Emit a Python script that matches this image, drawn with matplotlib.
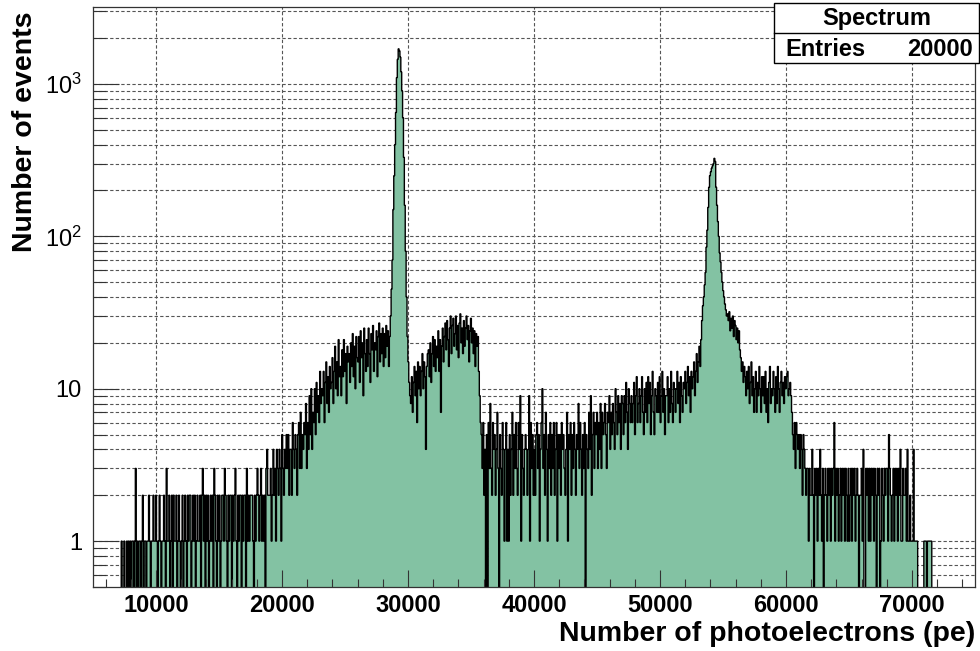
import numpy as np
import matplotlib
matplotlib.use("Agg")
import matplotlib.pyplot as plt
from matplotlib.patches import Rectangle
from matplotlib.lines import Line2D
from matplotlib.ticker import LogLocator, FixedLocator, MultipleLocator, NullFormatter

plt.rcParams["font.family"] = ["Liberation Sans", "DejaVu Sans"]
plt.rcParams["mathtext.fontset"] = "custom"
plt.rcParams["mathtext.rm"] = "Liberation Sans"

# ---- histogram definition -------------------------------------------------
HIST_NAME = "Spectrum"
ENTRIES = 20000
X_MIN, X_MAX = 5000, 75000
N_BINS = 1000
X_TITLE = "Number of photoelectrons (pe)"
Y_TITLE = "Number of events"

x_tick_values = [10000, 20000, 30000, 40000, 50000, 60000, 70000]
x_tick_labels = ["10000", "20000", "30000", "40000", "50000", "60000", "70000"]
y_tick_values = [1, 10, 100, 1000]
y_tick_labels = ["1", "10", r"$\mathregular{10^{2}}$", r"$\mathregular{10^{3}}$"]
y_range = (0.5, 3200)

# bin contents, 10 bins (700 pe) per row, starting at X_MIN
counts = [
    0, 0, 0, 0, 0, 0, 0, 0, 0, 0,
    0, 0, 0, 0, 0, 0, 0, 0, 0, 0,
    0, 0, 0, 0, 0, 0, 0, 0, 0, 0,
    0, 0, 1, 0, 0, 1, 0, 0, 1, 0,
    1, 0, 1, 0, 1, 1, 0, 1, 3, 0,
    1, 0, 1, 1, 0, 1, 2, 0, 1, 1,
    0, 1, 1, 2, 1, 0, 1, 1, 2, 1,
    1, 2, 1, 0, 1, 2, 1, 0, 1, 1,
    2, 1, 0, 3, 1, 1, 2, 0, 1, 2,
    0, 2, 1, 1, 2, 0, 1, 2, 1, 0,
    1, 2, 0, 1, 2, 1, 0, 2, 1, 2,
    2, 0, 1, 2, 1, 2, 0, 1, 2, 1,
    1, 2, 0, 2, 3, 1, 2, 0, 2, 1,
    2, 0, 1, 2, 1, 2, 0, 3, 2, 1,
    0, 2, 1, 2, 0, 1, 2, 2, 1, 3,
    2, 1, 0, 2, 1, 2, 2, 0, 2, 1,
    2, 3, 1, 0, 2, 1, 2, 2, 0, 2,
    1, 2, 2, 0, 3, 1, 2, 1, 2, 2,
    2, 1, 0, 2, 1, 2, 3, 2, 1, 2,
    3, 1, 2, 1, 2, 0, 3, 4, 2, 2,
    2, 3, 1, 2, 4, 2, 3, 1, 4, 3,
    2, 4, 3, 1, 5, 3, 2, 4, 3, 5,
    3, 5, 2, 4, 4, 2, 6, 4, 3, 5,
    4, 2, 5, 6, 3, 7, 3, 5, 4, 6,
    5, 8, 3, 6, 4, 9, 5, 10, 4, 7,
    6, 10, 5, 11, 7, 9, 6, 13, 8, 10,
    9, 13, 6, 11, 15, 8, 12, 7, 14, 10,
    11, 16, 8, 13, 19, 10, 15, 9, 21, 12,
    14, 9, 18, 12, 21, 13, 17, 8, 19, 15,
    17, 11, 20, 14, 23, 12, 19, 10, 22, 16,
    15, 22, 11, 24, 16, 20, 9, 25, 17, 13,
    21, 14, 25, 17, 11, 23, 18, 26, 13, 20,
    18, 24, 12, 22, 27, 15, 23, 17, 25, 14,
    23, 16, 26, 19, 24, 14, 22, 30, 45, 70,
    150, 250, 400, 650, 1100, 1450, 1700, 1650, 1500, 1200,
    900, 600, 330, 160, 80, 40, 22, 15, 11, 9,
    8, 12, 7, 11, 14, 9, 13, 6, 15, 10,
    14, 9, 13, 17, 10, 15, 12, 4, 14, 17,
    18, 12, 20, 11, 17, 22, 14, 21, 13, 19,
    16, 24, 13, 21, 7, 19, 25, 15, 22, 27,
    18, 28, 21, 14, 25, 30, 17, 26, 29, 19,
    23, 30, 18, 26, 16, 27, 31, 20, 25, 17,
    28, 19, 25, 30, 21, 26, 15, 24, 29, 20,
    25, 17, 24, 14, 23, 19, 22, 13, 9, 6,
    5, 3, 6, 2, 4, 0, 5, 0, 6, 3,
    8, 3, 2, 6, 4, 5, 2, 4, 7, 3,
    0, 5, 3, 2, 6, 4, 1, 4, 6, 1,
    4, 1, 5, 2, 4, 7, 2, 5, 3, 6,
    3, 2, 6, 4, 9, 1, 5, 3, 2, 4,
    5, 4, 2, 4, 9, 1, 6, 3, 5, 2,
    4, 2, 5, 6, 3, 5, 1, 4, 6, 10,
    3, 5, 2, 7, 4, 1, 5, 3, 6, 2,
    5, 3, 6, 2, 4, 6, 1, 5, 3, 5,
    2, 6, 4, 5, 3, 2, 4, 7, 1, 5,
    4, 6, 2, 5, 3, 6, 4, 2, 5, 4,
    8, 3, 6, 4, 2, 5, 3, 6, 0, 5,
    4, 3, 7, 4, 9, 2, 5, 7, 3, 6,
    5, 7, 3, 6, 4, 8, 3, 7, 5, 6,
    8, 5, 3, 7, 6, 9, 4, 7, 5, 8,
    6, 4, 10, 7, 5, 9, 6, 8, 4, 9,
    8, 5, 9, 6, 11, 7, 4, 10, 8, 6,
    9, 6, 8, 11, 5, 9, 12, 6, 8, 10,
    6, 9, 12, 7, 5, 10, 7, 11, 6, 12,
    8, 11, 5, 9, 13, 7, 5, 10, 9, 7,
    11, 7, 12, 6, 9, 13, 7, 10, 5, 9,
    9, 12, 6, 10, 7, 13, 8, 6, 11, 10,
    7, 10, 13, 8, 11, 6, 12, 9, 7, 11,
    10, 13, 8, 11, 14, 9, 12, 7, 13, 10,
    12, 15, 9, 13, 17, 11, 15, 19, 14, 21,
    28, 35, 40, 48, 58, 85, 110, 155, 210, 250,
    265, 280, 290, 300, 325, 310, 210, 160, 125, 100,
    78, 68, 58, 50, 44, 40, 36, 33, 30, 31,
    28, 32, 24, 29, 25, 30, 22, 28, 26, 21,
    25, 20, 24, 18, 16, 13, 15, 11, 14, 12,
    9, 13, 10, 14, 8, 11, 15, 9, 12, 7,
    10, 13, 7, 11, 9, 14, 10, 7, 12, 9,
    12, 8, 13, 7, 10, 6, 11, 14, 8, 10,
    9, 13, 10, 7, 12, 8, 14, 10, 7, 11,
    13, 9, 11, 8, 12, 10, 12, 13, 9, 10,
    11, 9, 7, 5, 4, 6, 3, 6, 5, 4,
    5, 3, 5, 4, 2, 5, 4, 3, 2, 3,
    3, 1, 3, 2, 2, 4, 2, 0, 3, 2,
    3, 1, 3, 2, 4, 2, 1, 3, 0, 2,
    3, 2, 1, 3, 2, 3, 1, 3, 2, 3,
    6, 1, 3, 2, 3, 1, 2, 3, 1, 3,
    2, 3, 1, 3, 2, 1, 3, 1, 2, 3,
    1, 3, 2, 3, 1, 2, 3, 2, 0, 2,
    2, 3, 1, 4, 0, 0, 3, 2, 3, 1,
    3, 1, 3, 2, 3, 1, 3, 2, 0, 3,
    2, 3, 0, 1, 3, 2, 1, 3, 2, 3,
    3, 1, 5, 3, 2, 1, 2, 3, 1, 3,
    2, 3, 1, 3, 2, 4, 1, 1, 3, 2,
    2, 3, 1, 4, 1, 1, 2, 1, 1, 1,
    4, 1, 1, 1, 1, 0, 0, 0, 0, 0,
    0, 0, 1, 1, 1, 0, 1, 1, 1, 1,
    1, 0, 0, 0, 0, 0, 0, 0, 0, 0,
    0, 0, 0, 0, 0, 0, 0, 0, 0, 0,
    0, 0, 0, 0, 0, 0, 0, 0, 0, 0,
    0, 0, 0, 0, 0, 0, 0, 0, 0, 0,
    0, 0, 0, 0, 0, 0, 0, 0, 0, 0,
]

FILL_COLOR = "#83c2a3"
GRID_COLOR = "#555555"

# ---- figure ---------------------------------------------------------------
W, H, DPI = 980, 651, 100
fig = plt.figure(figsize=(W / DPI, H / DPI), dpi=DPI)

def fx(px):
    return px / W

def fy(py):
    return 1 - py / H

ax_l, ax_r, ax_t, ax_b = 93, 975, 7, 587
ax = fig.add_axes([fx(ax_l), fy(ax_b), fx(ax_r - ax_l), (ax_b - ax_t) / H])
ax.set_yscale("log")
ax.set_xlim(X_MIN, X_MAX)
ax.set_ylim(*y_range)

edges = np.linspace(X_MIN, X_MAX, N_BINS + 1)
vals = np.asarray(counts, dtype=float)
floor = 1e-3  # empty bins fall through the bottom of the frame, as on a log pad
shown = np.where(vals > 0, vals, floor)

# grid at every labelled x tick and at every log decade subdivision in y
y_grid = [m * 10.0 ** e for e in range(-1, 4) for m in range(1, 10)]
y_grid = [v for v in y_grid if y_range[0] < v < y_range[1]]
for v in y_grid:
    ax.axhline(v, color=GRID_COLOR, lw=0.8, ls=(0, (3, 2)), zorder=0.5)
for v in x_tick_values:
    ax.axvline(v, color=GRID_COLOR, lw=0.8, ls=(0, (3, 2)), zorder=0.5)

ax.stairs(shown, edges, baseline=floor, fill=True, color=FILL_COLOR, lw=0, zorder=1)
ax.stairs(shown, edges, baseline=floor, fill=False, color="black", lw=1.0, zorder=1.2)

# axes / ticks
ax.set_axisbelow(False)
for s in ax.spines.values():
    s.set_color("#333333")
    s.set_linewidth(0.9)
    s.set_zorder(3)

ax.xaxis.set_major_locator(FixedLocator(x_tick_values))
ax.set_xticklabels(x_tick_labels, fontsize=17, fontweight="bold")
ax.xaxis.set_minor_locator(MultipleLocator(2000))
ax.yaxis.set_major_locator(FixedLocator(y_tick_values))
ax.set_yticklabels(y_tick_labels, fontsize=17)
ax.yaxis.set_minor_locator(LogLocator(base=10, subs=np.arange(2, 10), numticks=20))
ax.yaxis.set_minor_formatter(NullFormatter())

ax.tick_params(axis="x", which="major", direction="in", length=12.2, width=0.8,
               top=False, pad=5, color="#333333")
ax.tick_params(axis="x", which="minor", direction="in", length=5.8, width=0.8,
               top=False, color="#333333")
ax.tick_params(axis="y", which="major", direction="in", length=18.7, width=0.8,
               right=False, pad=8, color="#333333")
ax.tick_params(axis="y", which="minor", direction="in", length=9.4, width=0.8,
               right=False, color="#333333")

# axis titles
fig.text(fx(975), fy(634), X_TITLE, ha="right", va="center",
         fontsize=20.5, fontweight="bold")
fig.text(fx(25), fy(12), Y_TITLE, ha="center", va="top", rotation=90,
         fontsize=20.5, fontweight="bold")

# statistics box
bx0, bx1, by0, by1, bymid = 774, 979, 3, 63, 33
fig.patches.append(Rectangle((fx(bx0), fy(by1)), fx(bx1 - bx0), (by1 - by0) / H,
                             transform=fig.transFigure, facecolor="white",
                             edgecolor="black", lw=1.0, zorder=5))
fig.lines.append(Line2D([fx(bx0), fx(bx1)], [fy(bymid), fy(bymid)],
                        transform=fig.transFigure, color="black", lw=1.0, zorder=6))
fig.text(fx((bx0 + bx1) / 2), fy(19), HIST_NAME, ha="center", va="center",
         fontsize=17, fontweight="bold", zorder=7)
fig.text(fx(785), fy(49), "Entries", ha="left", va="center",
         fontsize=17, fontweight="bold", zorder=7)
fig.text(fx(973), fy(49), f"{ENTRIES}", ha="right", va="center",
         fontsize=17, fontweight="bold", zorder=7)

fig.savefig("out.png", dpi=DPI, facecolor="white")
